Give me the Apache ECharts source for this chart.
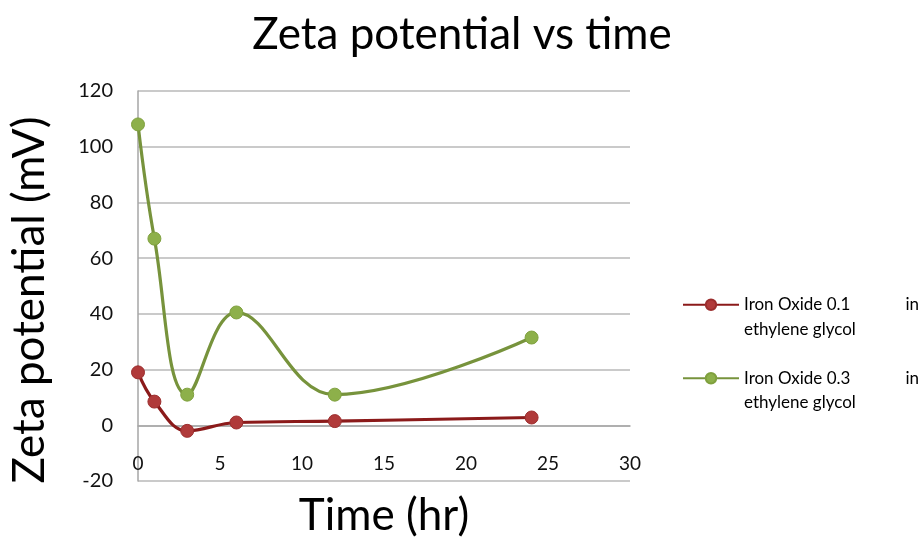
<!DOCTYPE html>
<html><head><meta charset="utf-8">
<script src="https://cdn.jsdelivr.net/npm/echarts@6/dist/echarts.min.js"></script>
<style>html,body{margin:0;padding:0;background:#fff;}#c{width:924px;height:537px;}</style>
</head><body><div id="c"></div>
<script>
const timeHr = [0, 1, 3, 6, 12, 24];
const ironOxide01 = [19, 8.5, -2, 1, 1.5, 2.8];
const ironOxide03 = [108, 67, 11, 40.5, 11, 31.5];
const seriesNames = ['Iron Oxide 0.1 in ethylene glycol', 'Iron Oxide 0.3 in ethylene glycol'];
const yTicks = [-20, 0, 20, 40, 60, 80, 100, 120];
const xTicks = [0, 5, 10, 15, 20, 25, 30];

const font = 'Lato, "Open Sans", sans-serif';
const chart = echarts.init(document.getElementById('c'));
const toPairs = (ys) => timeHr.map((t, i) => [t, ys[i]]);
chart.setOption({
  animation: false,
  title: {
    text: 'Zeta potential vs time', left: 457, top: 8, textAlign: 'center',
    textStyle: { fontFamily: font, fontSize: 44, fontWeight: 'normal', color: '#000' }
  },
  grid: { left: 138, right: 294, top: 91, bottom: 56, containLabel: false, outerBoundsMode: 'none' },
  legend: {
    orient: 'vertical', left: 682, top: 268, padding: 0, itemWidth: 56, itemHeight: 13, itemGap: 0,
    textStyle: {
      fontFamily: font, fontSize: 17, color: '#000', lineHeight: 24.5,
      rich: {
        a: { fontFamily: font, fontSize: 17, color: '#000', lineHeight: 24.5 },
        g: { fontFamily: font, fontSize: 17, width: 55, lineHeight: 24.5 }
      }
    },
    formatter: (name) => {
      const parts = name.split(' in ');
      return '\n{a|' + parts[0] + '}{g| }{a|in}\n{a|' + parts[1] + '}';
    },
    data: seriesNames
  },
  xAxis: {
    type: 'value', min: xTicks[0], max: xTicks[xTicks.length - 1], interval: 5,
    name: 'Time (hr)', nameLocation: 'middle', nameGap: 69,
    nameTextStyle: { fontFamily: font, fontSize: 44, color: '#000' },
    offset: -55.7,
    axisLine: { onZero: false, lineStyle: { color: '#a6a6a6', width: 1.5 } },
    axisTick: { show: false },
    axisLabel: { margin: 29, fontFamily: font, fontSize: 19, color: '#111' },
    splitLine: { show: false }
  },
  yAxis: {
    type: 'value', min: yTicks[0], max: yTicks[yTicks.length - 1], interval: 20,
    name: 'Zeta potential (mV)', nameLocation: 'middle', nameGap: 86,
    nameTextStyle: { fontFamily: font, fontSize: 44, color: '#000', padding: [0, 28, 0, 0] },
    axisLine: { show: true, lineStyle: { color: '#a6a6a6', width: 1.5 } },
    axisTick: { show: false },
    axisLabel: { margin: 25, fontFamily: font, fontSize: 20, color: '#111' },
    splitLine: { lineStyle: { color: '#b8b8b8', width: 1.5 } }
  },
  series: [
    {
      name: seriesNames[0], type: 'line', smooth: 0.4, data: toPairs(ironOxide01),
      symbol: 'circle', symbolSize: 13,
      lineStyle: { color: '#8b1a1a', width: 3.2 },
      itemStyle: { color: '#b03a3a', borderColor: '#9b2d2d', borderWidth: 1 }
    },
    {
      name: seriesNames[1], type: 'line', smooth: 0.4, data: toPairs(ironOxide03),
      symbol: 'circle', symbolSize: 13,
      lineStyle: { color: '#77933c', width: 3.2 },
      itemStyle: { color: '#8db04a', borderColor: '#7fa03e', borderWidth: 1 }
    }
  ]
});
</script></body></html>
